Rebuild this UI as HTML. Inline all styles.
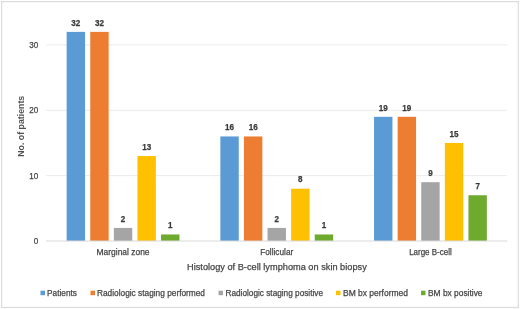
<!DOCTYPE html>
<html><head><meta charset="utf-8"><title>Chart</title><style>html,body{margin:0;padding:0;background:#fff;}body{width:520px;height:309px;overflow:hidden;}</style></head><body>
<svg width="520" height="309" viewBox="0 0 520 309" style="display:block;will-change:transform;opacity:0.999">
<rect x="0" y="0" width="520" height="309" fill="#ffffff"/>
<rect x="1.6" y="1.6" width="516.7" height="305.9" fill="#ffffff" stroke="#dcdcdc" stroke-width="1.2"/>
<line x1="46.2" y1="175.65" x2="507.3" y2="175.65" stroke="#ececec" stroke-width="1"/>
<line x1="46.2" y1="110.30" x2="507.3" y2="110.30" stroke="#ececec" stroke-width="1"/>
<line x1="46.2" y1="44.95" x2="507.3" y2="44.95" stroke="#ececec" stroke-width="1"/>
<text x="38.30" y="243.90" text-anchor="end" font-size="9.0" fill="#444444" stroke="#444444" stroke-width="0.25" textLength="4.50" lengthAdjust="spacingAndGlyphs" font-family="Liberation Sans, sans-serif">0</text>
<text x="38.30" y="178.55" text-anchor="end" font-size="9.0" fill="#444444" stroke="#444444" stroke-width="0.25" textLength="9.00" lengthAdjust="spacingAndGlyphs" font-family="Liberation Sans, sans-serif">10</text>
<text x="38.30" y="113.20" text-anchor="end" font-size="9.0" fill="#444444" stroke="#444444" stroke-width="0.25" textLength="9.00" lengthAdjust="spacingAndGlyphs" font-family="Liberation Sans, sans-serif">20</text>
<text x="38.30" y="47.85" text-anchor="end" font-size="9.0" fill="#444444" stroke="#444444" stroke-width="0.25" textLength="9.00" lengthAdjust="spacingAndGlyphs" font-family="Liberation Sans, sans-serif">30</text>
<rect x="66.65" y="31.88" width="18.4" height="209.12" fill="#5B9BD5"/>
<text x="75.85" y="25.58" text-anchor="middle" font-size="9.0" font-weight="bold" fill="#383838" stroke="#383838" stroke-width="0.25" textLength="9.00" lengthAdjust="spacingAndGlyphs" font-family="Liberation Sans, sans-serif">32</text>
<rect x="90.25" y="31.88" width="18.4" height="209.12" fill="#ED7D31"/>
<text x="99.45" y="25.58" text-anchor="middle" font-size="9.0" font-weight="bold" fill="#383838" stroke="#383838" stroke-width="0.25" textLength="9.00" lengthAdjust="spacingAndGlyphs" font-family="Liberation Sans, sans-serif">32</text>
<rect x="113.85" y="227.93" width="18.4" height="13.07" fill="#A5A5A5"/>
<text x="123.05" y="221.63" text-anchor="middle" font-size="9.0" font-weight="bold" fill="#383838" stroke="#383838" stroke-width="0.25" textLength="4.50" lengthAdjust="spacingAndGlyphs" font-family="Liberation Sans, sans-serif">2</text>
<rect x="137.45" y="156.05" width="18.4" height="84.95" fill="#FFC000"/>
<text x="146.65" y="149.75" text-anchor="middle" font-size="9.0" font-weight="bold" fill="#383838" stroke="#383838" stroke-width="0.25" textLength="9.00" lengthAdjust="spacingAndGlyphs" font-family="Liberation Sans, sans-serif">13</text>
<rect x="161.05" y="234.47" width="18.4" height="6.54" fill="#6EAA2E"/>
<text x="170.25" y="228.16" text-anchor="middle" font-size="9.0" font-weight="bold" fill="#383838" stroke="#383838" stroke-width="0.25" textLength="4.50" lengthAdjust="spacingAndGlyphs" font-family="Liberation Sans, sans-serif">1</text>
<text x="123.05" y="255.10" text-anchor="middle" font-size="9.0" fill="#444444" stroke="#444444" stroke-width="0.25" textLength="53.00" lengthAdjust="spacingAndGlyphs" font-family="Liberation Sans, sans-serif">Marginal zone</text>
<rect x="220.35" y="136.44" width="18.4" height="104.56" fill="#5B9BD5"/>
<text x="229.55" y="130.14" text-anchor="middle" font-size="9.0" font-weight="bold" fill="#383838" stroke="#383838" stroke-width="0.25" textLength="9.00" lengthAdjust="spacingAndGlyphs" font-family="Liberation Sans, sans-serif">16</text>
<rect x="243.95" y="136.44" width="18.4" height="104.56" fill="#ED7D31"/>
<text x="253.15" y="130.14" text-anchor="middle" font-size="9.0" font-weight="bold" fill="#383838" stroke="#383838" stroke-width="0.25" textLength="9.00" lengthAdjust="spacingAndGlyphs" font-family="Liberation Sans, sans-serif">16</text>
<rect x="267.55" y="227.93" width="18.4" height="13.07" fill="#A5A5A5"/>
<text x="276.75" y="221.63" text-anchor="middle" font-size="9.0" font-weight="bold" fill="#383838" stroke="#383838" stroke-width="0.25" textLength="4.50" lengthAdjust="spacingAndGlyphs" font-family="Liberation Sans, sans-serif">2</text>
<rect x="291.15" y="188.72" width="18.4" height="52.28" fill="#FFC000"/>
<text x="300.35" y="182.42" text-anchor="middle" font-size="9.0" font-weight="bold" fill="#383838" stroke="#383838" stroke-width="0.25" textLength="4.50" lengthAdjust="spacingAndGlyphs" font-family="Liberation Sans, sans-serif">8</text>
<rect x="314.75" y="234.47" width="18.4" height="6.54" fill="#6EAA2E"/>
<text x="323.95" y="228.16" text-anchor="middle" font-size="9.0" font-weight="bold" fill="#383838" stroke="#383838" stroke-width="0.25" textLength="4.50" lengthAdjust="spacingAndGlyphs" font-family="Liberation Sans, sans-serif">1</text>
<text x="276.75" y="255.10" text-anchor="middle" font-size="9.0" fill="#444444" stroke="#444444" stroke-width="0.25" textLength="33.00" lengthAdjust="spacingAndGlyphs" font-family="Liberation Sans, sans-serif">Follicular</text>
<rect x="374.05" y="116.83" width="18.4" height="124.17" fill="#5B9BD5"/>
<text x="383.25" y="110.53" text-anchor="middle" font-size="9.0" font-weight="bold" fill="#383838" stroke="#383838" stroke-width="0.25" textLength="9.00" lengthAdjust="spacingAndGlyphs" font-family="Liberation Sans, sans-serif">19</text>
<rect x="397.65" y="116.83" width="18.4" height="124.17" fill="#ED7D31"/>
<text x="406.85" y="110.53" text-anchor="middle" font-size="9.0" font-weight="bold" fill="#383838" stroke="#383838" stroke-width="0.25" textLength="9.00" lengthAdjust="spacingAndGlyphs" font-family="Liberation Sans, sans-serif">19</text>
<rect x="421.25" y="182.19" width="18.4" height="58.81" fill="#A5A5A5"/>
<text x="430.45" y="175.88" text-anchor="middle" font-size="9.0" font-weight="bold" fill="#383838" stroke="#383838" stroke-width="0.25" textLength="4.50" lengthAdjust="spacingAndGlyphs" font-family="Liberation Sans, sans-serif">9</text>
<rect x="444.85" y="142.97" width="18.4" height="98.03" fill="#FFC000"/>
<text x="454.05" y="136.67" text-anchor="middle" font-size="9.0" font-weight="bold" fill="#383838" stroke="#383838" stroke-width="0.25" textLength="9.00" lengthAdjust="spacingAndGlyphs" font-family="Liberation Sans, sans-serif">15</text>
<rect x="468.45" y="195.25" width="18.4" height="45.75" fill="#6EAA2E"/>
<text x="477.65" y="188.95" text-anchor="middle" font-size="9.0" font-weight="bold" fill="#383838" stroke="#383838" stroke-width="0.25" textLength="4.50" lengthAdjust="spacingAndGlyphs" font-family="Liberation Sans, sans-serif">7</text>
<text x="430.45" y="255.10" text-anchor="middle" font-size="9.0" fill="#444444" stroke="#444444" stroke-width="0.25" textLength="42.60" lengthAdjust="spacingAndGlyphs" font-family="Liberation Sans, sans-serif">Large B-cell</text>
<line x1="46.2" y1="241.0" x2="507.3" y2="241.0" stroke="#d9d9d9" stroke-width="1"/>
<text x="276.90" y="270.20" text-anchor="middle" font-size="9.9" fill="#444444" stroke="#444444" stroke-width="0.25" textLength="179.70" lengthAdjust="spacingAndGlyphs" font-family="Liberation Sans, sans-serif">Histology of B-cell lymphoma on skin biopsy</text>
<g transform="translate(23.8,126.3) rotate(-90)"><text x="0.00" y="0.00" text-anchor="middle" font-size="9.0" font-weight="bold" fill="#505050" stroke="#505050" stroke-width="0" textLength="61.00" lengthAdjust="spacingAndGlyphs" font-family="Liberation Sans, sans-serif">No. of patients</text></g>
<rect x="40.5" y="290.7" width="4.5" height="4.5" fill="#5B9BD5"/>
<text x="47.00" y="295.50" text-anchor="start" font-size="9.0" fill="#444444" stroke="#444444" stroke-width="0.25" textLength="30.00" lengthAdjust="spacingAndGlyphs" font-family="Liberation Sans, sans-serif">Patients</text>
<rect x="90.5" y="290.7" width="4.5" height="4.5" fill="#ED7D31"/>
<text x="97.00" y="295.50" text-anchor="start" font-size="9.0" fill="#444444" stroke="#444444" stroke-width="0.25" textLength="108.00" lengthAdjust="spacingAndGlyphs" font-family="Liberation Sans, sans-serif">Radiologic staging performed</text>
<rect x="218.5" y="290.7" width="4.5" height="4.5" fill="#A5A5A5"/>
<text x="225.50" y="295.50" text-anchor="start" font-size="9.0" fill="#444444" stroke="#444444" stroke-width="0.25" textLength="97.50" lengthAdjust="spacingAndGlyphs" font-family="Liberation Sans, sans-serif">Radiologic staging positive</text>
<rect x="336" y="290.7" width="4.5" height="4.5" fill="#FFC000"/>
<text x="343.00" y="295.50" text-anchor="start" font-size="9.0" fill="#444444" stroke="#444444" stroke-width="0.25" textLength="65.00" lengthAdjust="spacingAndGlyphs" font-family="Liberation Sans, sans-serif">BM bx performed</text>
<rect x="421" y="290.7" width="4.5" height="4.5" fill="#6EAA2E"/>
<text x="428.00" y="295.50" text-anchor="start" font-size="9.0" fill="#444444" stroke="#444444" stroke-width="0.25" textLength="54.50" lengthAdjust="spacingAndGlyphs" font-family="Liberation Sans, sans-serif">BM bx positive</text>
</svg>
</body></html>
